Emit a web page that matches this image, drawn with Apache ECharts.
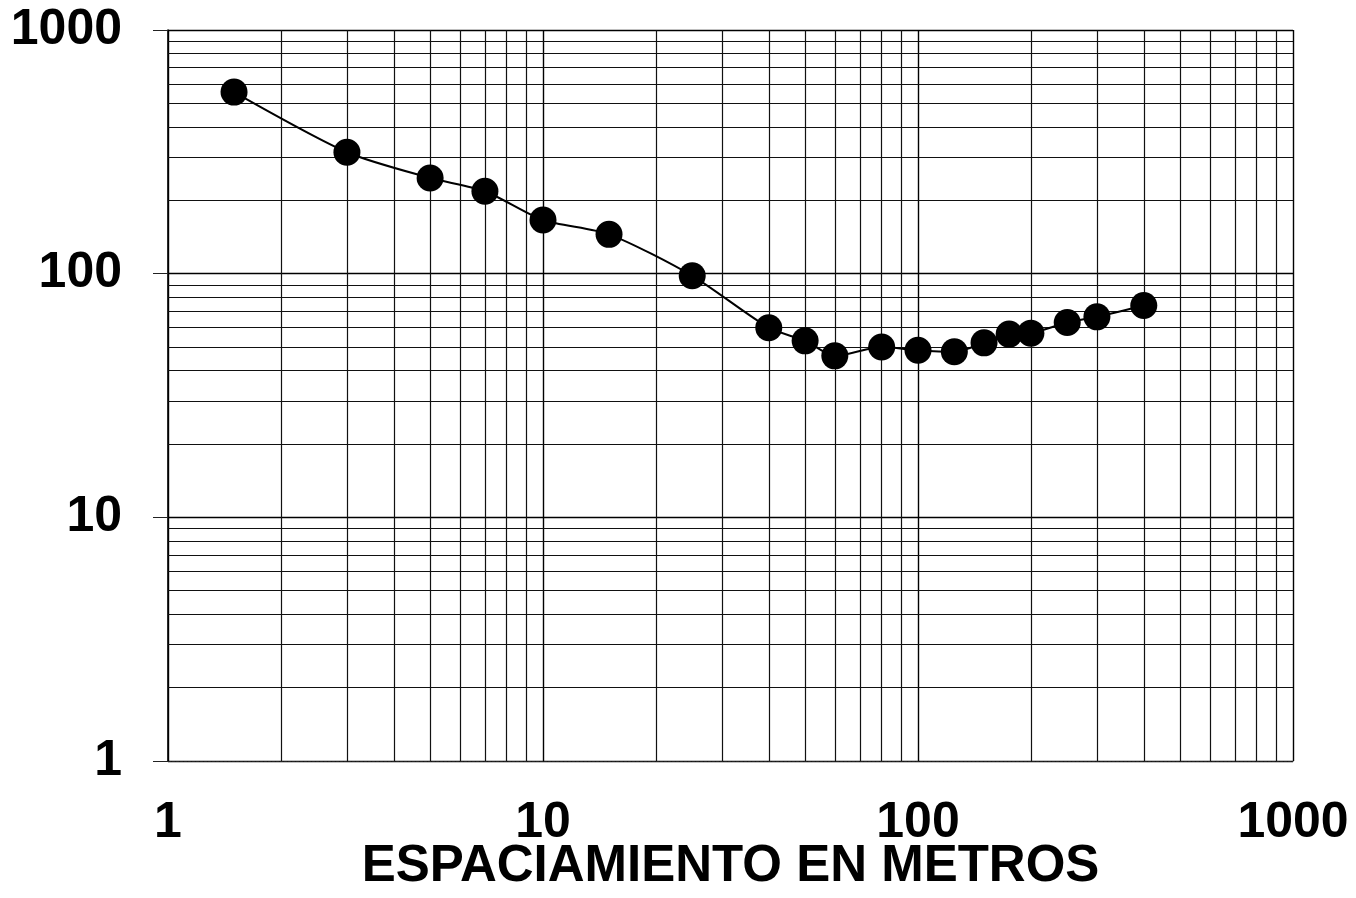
<!DOCTYPE html>
<html>
<head>
<meta charset="utf-8">
<script src="https://cdn.jsdelivr.net/npm/echarts@6/dist/echarts.min.js"></script>
<style>
  html, body { margin: 0; padding: 0; background: #ffffff; overflow: hidden; }
  #chart { width: 1356px; height: 898px; }
</style>
</head>
<body>
<div id="chart"></div>
<script>
// Spacing (m) and apparent resistivity values
const spacing = [1.5, 3, 5, 7, 10, 15, 25, 40, 50, 60, 80, 100, 125, 150, 175, 200, 250, 300, 400];
const resistivity = [556, 315, 247, 218, 166, 145, 98, 60, 53, 46, 50, 48.5, 47.8, 52, 56.5, 57, 63, 66.5, 74];

// Axis ranges and tick labels
const axisMin = 1;
const axisMax = 1000;
const tickLabels = ['1', '10', '100', '1000'];
const xAxisName = 'ESPACIAMIENTO EN METROS';

// Minor log-paper grid lines (2..9 in each decade)
const minorGrid = [2, 3, 4, 5, 6, 7, 8, 9, 20, 30, 40, 50, 60, 70, 80, 90, 200, 300, 400, 500, 600, 700, 800, 900];

const chart = echarts.init(document.getElementById('chart'), null, { renderer: 'canvas', width: 1356, height: 898 });

const labelFont = {
  fontFamily: 'Liberation Sans, Arial, sans-serif',
  fontWeight: 'bold',
  fontSize: 50,
  color: '#000'
};

const gridLines = [];
minorGrid.forEach(v => {
  gridLines.push({ xAxis: v });
  gridLines.push({ yAxis: v });
});

const option = {
  backgroundColor: '#ffffff',
  animation: false,
  grid: { left: 168, top: 30, width: 1125, height: 731, outerBoundsMode: 'none', containLabel: false },
  xAxis: {
    type: 'log',
    logBase: 10,
    min: axisMin,
    max: axisMax,
    name: xAxisName,
    nameLocation: 'middle',
    nameGap: 80,
    nameMoveOverlap: false,
    nameTextStyle: {
      fontFamily: 'Liberation Sans, Arial, sans-serif',
      fontWeight: 'bold',
      fontSize: 51,
      color: '#000'
    },
    axisLine: { show: true, lineStyle: { color: '#222', width: 1, type: [3, 1] } },
    axisTick: { show: false },
    axisLabel: Object.assign({
      margin: 37,
      formatter: v => tickLabels[Math.round(Math.log10(v))] || ''
    }, labelFont),
    splitLine: { show: true, lineStyle: { color: '#000', width: 1.4 } }
  },
  yAxis: {
    type: 'log',
    logBase: 10,
    min: axisMin,
    max: axisMax,
    axisLine: { show: true, lineStyle: { color: '#000', width: 1.6 } },
    axisTick: { show: true, inside: false, length: 15, lineStyle: { color: '#222', width: 1 } },
    axisLabel: Object.assign({
      margin: 46,
      formatter: v => tickLabels[Math.round(Math.log10(v))] || ''
    }, labelFont),
    splitLine: { show: true, lineStyle: { color: '#000', width: 1.4 } }
  },
  series: [
    {
      type: 'line',
      data: [],
      silent: true,
      markLine: {
        silent: true,
        symbol: ['none', 'none'],
        label: { show: false },
        lineStyle: { color: '#111', width: 1.2, type: 'solid' },
        emphasis: { disabled: true },
        data: gridLines
      }
    },
    {
      type: 'line',
      data: spacing.map((x, i) => [x, resistivity[i]]),
      smooth: 0.25,
      symbol: 'circle',
      symbolSize: 27,
      itemStyle: { color: '#000' },
      lineStyle: { color: '#000', width: 2 },
      z: 5
    }
  ]
};

chart.setOption(option);
</script>
</body>
</html>
